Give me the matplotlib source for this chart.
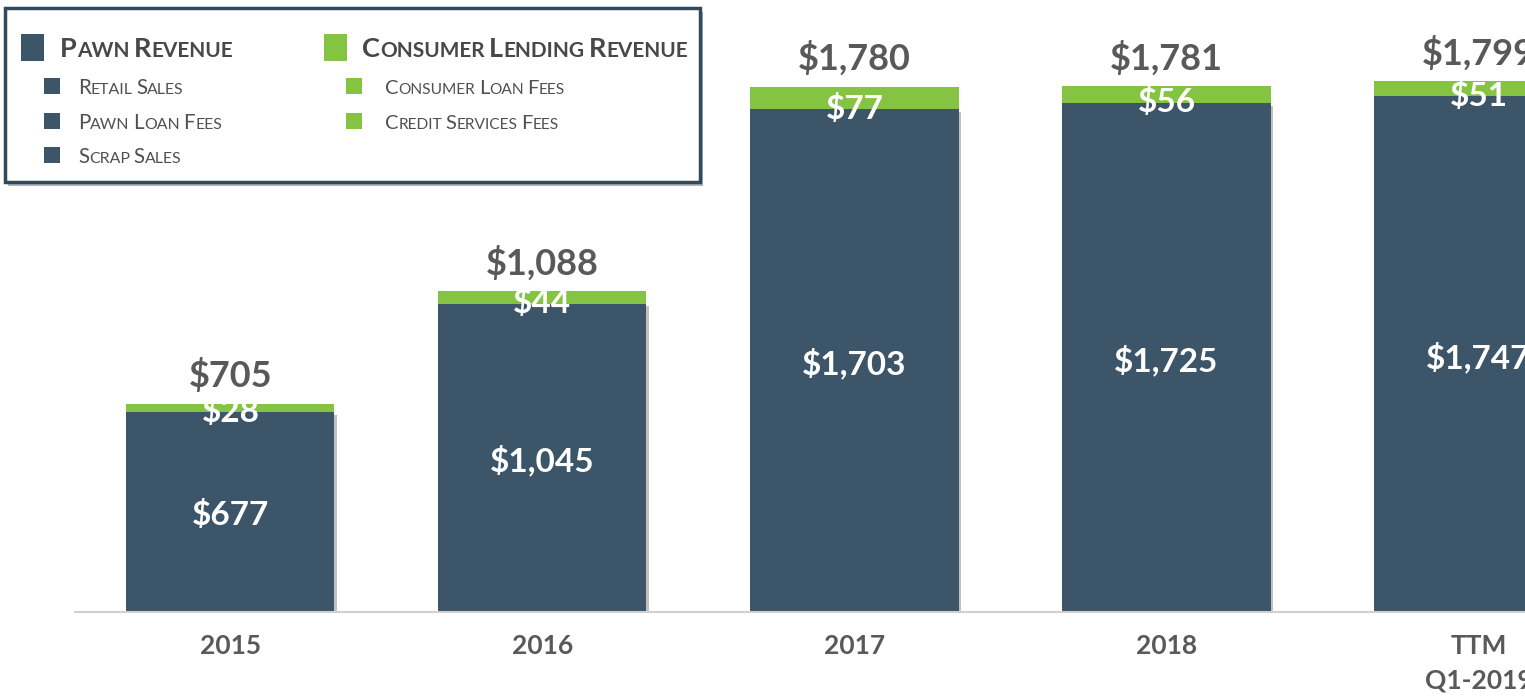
import matplotlib
matplotlib.use('Agg')
import matplotlib.pyplot as plt
from matplotlib.patches import Rectangle
import matplotlib.patheffects as pe

# revenue, $ millions
years = ['2015', '2016', '2017', '2018', 'TTM\nQ1-2019']
pawn = [677, 1045, 1703, 1725, 1747]
lending = [28, 44, 77, 56, 51]
totals = [705, 1088, 1780, 1781, 1799]

navy = '#3c5569'
green = '#84c442'
gray = '#595959'
W, H = 1525, 698

plt.rcParams['font.family'] = ['Lato', 'DejaVu Sans']

fig = plt.figure(figsize=(W / 100, H / 100), dpi=100)
ax = fig.add_axes([75 / W, 86 / H, 1450 / W, 612 / H])

x = list(range(len(years)))
shadow = [pe.withSimplePatchShadow(offset=(2, -2), shadow_rgbFace='#777777', alpha=0.45)]
ax.bar(x, pawn, width=0.667, color=navy, path_effects=shadow)
ax.bar(x, lending, bottom=pawn, width=0.667, color=green)

for i in x:
    ax.annotate('${:,}'.format(totals[i]), (i, totals[i]), xytext=(0, 12),
                textcoords='offset points', ha='center', va='baseline',
                fontsize=26, fontweight='bold', color=gray)
    ax.annotate('${:,}'.format(lending[i]), (i, pawn[i]), xytext=(0, 0.5),
                textcoords='offset points', ha='center', va='center',
                fontsize=24, fontweight='bold', color='white')
    ax.annotate('${:,}'.format(pawn[i]), (i, pawn[i] / 2), xytext=(0, -2),
                textcoords='offset points', ha='center', va='center',
                fontsize=24, fontweight='bold', color='white')

ax.set_xlim(-0.498, 4.149)
ax.set_ylim(0, 2074)
ax.set_xticks(x)
ax.set_xticklabels(years, fontsize=19, fontweight='bold', color=gray, linespacing=1.5)
ax.tick_params(axis='x', length=0, pad=16)
ax.set_yticks([])
for s in ['left', 'right', 'top']:
    ax.spines[s].set_visible(False)
ax.spines['bottom'].set_color('#d0d0d0')
ax.spines['bottom'].set_linewidth(1.5)


def fx(px):
    return px / W


def fy(py):
    return 1 - py / H


# legend box
box = Rectangle((fx(5), fy(182)), fx(695), 174 / H, transform=fig.transFigure,
                facecolor='white', edgecolor='#2f4a5c', linewidth=2.5,
                path_effects=[pe.withSimplePatchShadow(offset=(2, -3), shadow_rgbFace='#666666', alpha=0.5)])
fig.patches.append(box)

renderer = fig.canvas.get_renderer()


def smallcaps(x0, y0, text, big, weight, color):
    small = big * 0.77
    cx = x0
    for word in text.split(' '):
        runs = []
        for c in word:
            up = c.isupper()
            if runs and runs[-1][0] == up:
                runs[-1][1] += c
            else:
                runs.append([up, c])
        for up, s in runs:
            t = fig.text(fx(cx), fy(y0), s.upper(), fontsize=big if up else small,
                         fontweight=weight, color=color, ha='left', va='baseline')
            cx += t.get_window_extent(renderer).width
        cx += small * 0.32


def square(x0, y0, w, h, c):
    fig.patches.append(Rectangle((fx(x0), fy(y0 + h)), w / W, h / H,
                                 transform=fig.transFigure, facecolor=c, edgecolor='none'))


square(21, 34, 23, 27, navy)
smallcaps(60, 57, 'Pawn Revenue', 19.5, 'bold', '#484848')
square(324, 34, 23, 27, green)
smallcaps(362, 57, 'Consumer Lending Revenue', 19.5, 'bold', '#484848')

left_items = ['Retail Sales', 'Pawn Loan Fees', 'Scrap Sales']
right_items = ['Consumer Loan Fees', 'Credit Services Fees']
rows = [94, 129, 163]
for name, r in zip(left_items, rows):
    square(44, r - 16, 16, 16, navy)
    smallcaps(78, r, name, 14.8, 'normal', '#505050')
for name, r in zip(right_items, rows):
    square(346, r - 16, 16, 16, green)
    smallcaps(385, r, name, 14.5, 'normal', '#505050')

fig.savefig('out.png', dpi=100)
